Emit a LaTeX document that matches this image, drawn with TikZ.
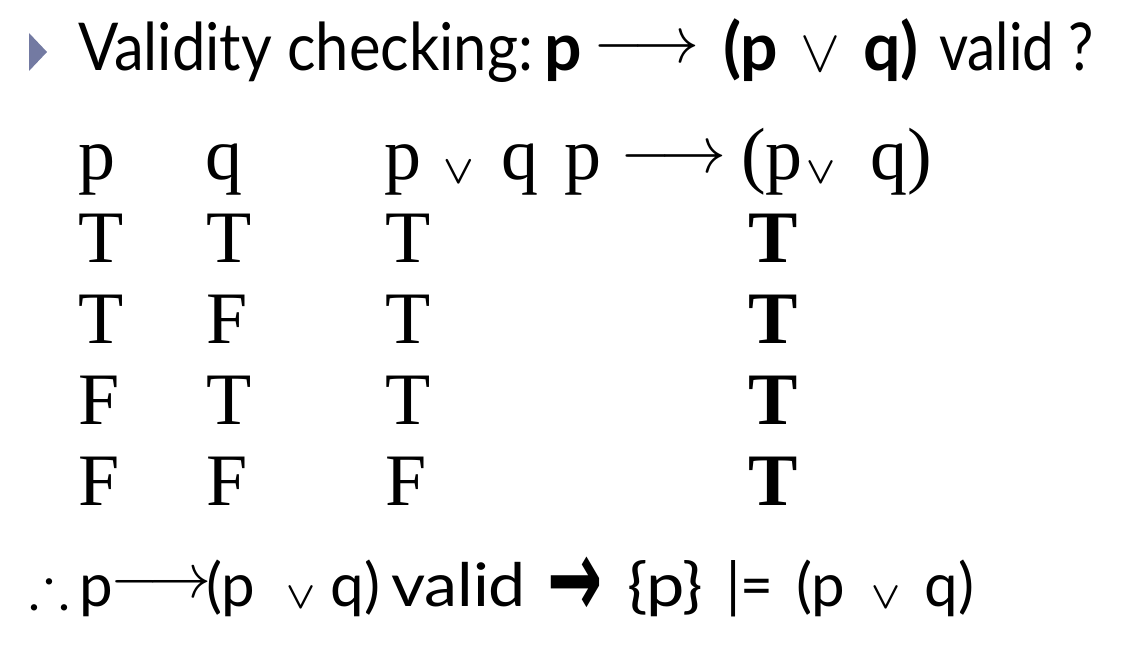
\RequirePackage{fix-cm}
\documentclass[tikz,border=0pt]{standalone}
\usepackage{amssymb}
\usepackage{graphicx}
\usepackage{fontspec}
\setmainfont{Liberation Serif}
\newfontfamily\gs{Lato}
\newfontfamily\dv{DejaVu Sans}
\newcommand\fitw[2]{\resizebox{#1pt}{\height}{#2}}
\newcommand\fs[1]{\fontsize{#1}{#1}\selectfont}
\definecolor{bulletcol}{HTML}{737AA2}
\tikzset{
  txt/.style={anchor=base west, inner sep=0pt, outer sep=0pt},
  txte/.style={anchor=base east, inner sep=0pt, outer sep=0pt},
  ttl/.style={txt, font=\gs\fs{66}},
  ttle/.style={txte, font=\gs\fs{66}},
  bot/.style={txt, font=\gs\fs{60}},
  bote/.style={txte, font=\gs\fs{60}},
  tab/.style={txt, font=\fs{74}},
  tabe/.style={txte, font=\fs{74}},
  orsym/.style={txt, font=\fs{#1}},
  orsymb/.style={txt, font=\fs{#1}\boldmath},
  arr/.style={txt, font=\fs{#1}},
}
\begin{document}
\begin{tikzpicture}[x=1pt,y=-1pt]
\useasboundingbox (0,0) rectangle (1128,650);
% ---------- title line ----------
\fill[bulletcol] (29,33) -- (47,52) -- (29,71) -- cycle;
\node[ttl] (t1) at (78,71) {\fitw{455}{Validity checking:}};
\node[ttl] (t2) at (544,71) {\textbf{p}};
\node[arr=66] (t3) at (593,63) {$\longrightarrow\vphantom{(}$};
\node[ttl] (t4) at (723,71) {\textbf{(p}};
\node[orsym=60] (t5) at (800,72) {$\vee$};
\node[ttle] (t6) at (919,71) {\textbf{q)}};
\node[ttl] (t7) at (939,71) {\fitw{155}{valid ?}};
% ---------- table header ----------
\node[tab] (h1) at (78,180) {p};
\node[tab] (h2) at (205,180) {q};
\node[tab] (h3) at (384,180) {p};
\node[orsymb=40] (h4) at (443,184) {$\vee$};
\node[tab] (h5) at (501,180) {q};
\node[tab] (h6) at (564,180) {p};
\node[arr=66] (h7) at (620,173) {$\longrightarrow\vphantom{(}$};
\node[tab] (h8) at (741,180) {(p};
\node[orsymb=38] (h9) at (806,184) {$\vee$};
\node[tabe] (h10) at (932,180) {q)};
% ---------- table rows ----------
\node[tab] (r1a) at (78,262) {T};
\node[tab] (r1b) at (206,262) {T};
\node[tab] (r1c) at (385,262) {T};
\node[tab] (r1d) at (748,262) {\textbf{T}};
\node[tab] (r2a) at (78,343) {T};
\node[tab] (r2b) at (206,343) {F};
\node[tab] (r2c) at (385,343) {T};
\node[tab] (r2d) at (748,343) {\textbf{T}};
\node[tab] (r3a) at (78,424) {F};
\node[tab] (r3b) at (206,424) {T};
\node[tab] (r3c) at (385,424) {T};
\node[tab] (r3d) at (748,424) {\textbf{T}};
\node[tab] (r4a) at (78,505) {F};
\node[tab] (r4b) at (206,505) {F};
\node[tab] (r4c) at (385,505) {F};
\node[tab] (r4d) at (748,505) {\textbf{T}};
% ---------- bottom line ----------
\node[txt, font=\fs{60}] (b1) at (30,606) {$\therefore$};
\node[bot] (b2) at (79,606) {p};
\node[arr=63] (b3) at (110,597) {$\longrightarrow\vphantom{(}$};
\node[bot] (b4) at (206,606) {(p};
\node[orsymb=38] (b5) at (286,608) {$\vee$};
\node[bote] (b6) at (380,606) {q)};
\node[bot] (b7) at (391,606) {\fitw{135}{valid}};
\node[txt, font=\dv\bfseries\fs{66}] (b8) at (547,617) {\scalebox{1}[1.7]{→}};
\node[bot] (b9) at (627,606) {\fitw{76}{\{p\}}};
\node[bot] (b10) at (726,606) {\fitw{47}{|=}};
\node[bot] (b11) at (796,606) {(p};
\node[orsymb=38] (b12) at (871,608) {$\vee$};
\node[bote] (b13) at (974,606) {q)};
\end{tikzpicture}
\end{document}
